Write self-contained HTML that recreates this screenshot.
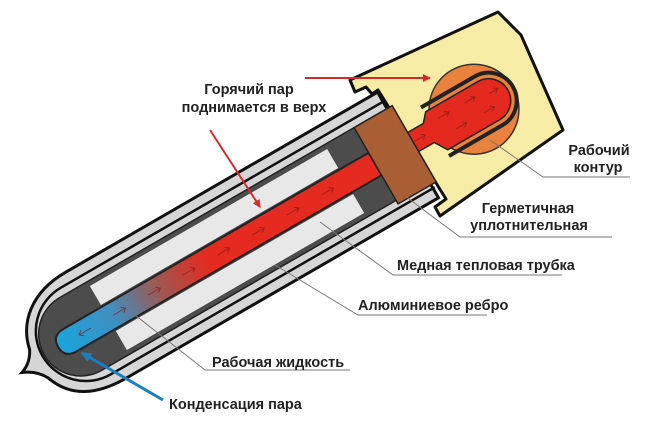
<!DOCTYPE html>
<html><head><meta charset="utf-8"><style>
html,body{margin:0;padding:0;background:#fff;}
svg{display:block}
text{font-family:"Liberation Sans","DejaVu Sans",sans-serif;font-weight:bold;font-size:14.5px;fill:#222}
</style></head><body>
<svg width="650" height="446" viewBox="0 0 650 446" xmlns="http://www.w3.org/2000/svg">
<defs>
<linearGradient id="pg" gradientUnits="userSpaceOnUse" x1="-400" y1="0" x2="-230" y2="0">
<stop offset="0" stop-color="#1ba3dc"/><stop offset="0.35" stop-color="#3f8fc0"/><stop offset="0.65" stop-color="#9a5a55"/><stop offset="1" stop-color="#e52a1f"/>
</linearGradient>
<marker id="ar" markerWidth="8" markerHeight="8" refX="7" refY="4" orient="auto" markerUnits="userSpaceOnUse"><path d="M0,0 L8,4 L0,8 z" fill="#d42a2a"/></marker>
<marker id="ab" markerWidth="10" markerHeight="10" refX="9" refY="5" orient="auto" markerUnits="userSpaceOnUse"><path d="M0,0 L10,5 L0,10 z" fill="#1a7fc0"/></marker>
</defs>
<polygon points="350,80 498,12 521,35 563,130 440,216 435,207 446,199 378,90 372,94 366,87 355,92" fill="#f6eca6" stroke="#111" stroke-width="3" stroke-linejoin="round"/>
<g transform="translate(408,145) rotate(-30)">
  <path d="M0,-61 L-360,-61 C-400,-61 -424,-40 -430,-12 Q-436,0 -448,4 Q-434,10 -428,22 C-418,50 -394,61 -360,61 L0,61 Z" fill="#d6d6d6" stroke="#111" stroke-width="3"/>
  <path d="M2,-50 L-372,-50 A50,50 0 0 0 -372,50 L2,50" fill="none" stroke="#111" stroke-width="2.5"/>
  <path d="M-2,-42 L-378,-42 A42,42 0 0 0 -378,42 L-2,42 Z" fill="#4c4c4c" stroke="#222" stroke-width="1.5"/>
  <rect x="-346" y="-37" width="274" height="22" fill="#e8e8e8"/>
  <rect x="-346" y="15" width="274" height="22" fill="#e8e8e8"/>
  <path d="M-38,-13 L-390,-13 Q-404,-13 -404,0 Q-404,13 -390,13 L-38,13 Z" fill="url(#pg)" stroke="#222" stroke-width="2"/>
  <g stroke="#8a1a14" stroke-width="1" fill="none" opacity="0.7">
    <path d="M-100,0 h14 m-4,-3 l4,3 l-4,3"/><path d="M-140,0 h14 m-4,-3 l4,3 l-4,3"/>
    <path d="M-180,0 h14 m-4,-3 l4,3 l-4,3"/><path d="M-220,0 h14 m-4,-3 l4,3 l-4,3"/>
    <path d="M-260,0 h14 m-4,-3 l4,3 l-4,3"/><path d="M-300,0 h14 m-4,-3 l4,3 l-4,3"/>
    <path d="M-340,0 h14 m-4,-3 l4,3 l-4,3"/><path d="M-380,0 h14 m-14,0 l4,-3 m-4,3 l4,3"/>
  </g>
  <circle cx="75" cy="2" r="45" fill="#e9823c" stroke="#333" stroke-width="1.5"/>
  <path d="M30,-26 L92,-26 A28,28 0 0 1 92,30 L30,30" fill="none" stroke="#222" stroke-width="4"/>
  <path d="M0,-11 L24,-11 L32,-20 L92,-20 A22,22 0 0 1 92,24 L32,24 L24,11 L0,11 Z" fill="#e42a1e" stroke="#222" stroke-width="1.5"/>
  <g stroke="#8a1a14" stroke-width="1" fill="none" opacity="0.7">
    <path d="M40,-8 h12 m-4,-3 l4,3 l-4,3"/><path d="M70,-8 h12 m-4,-3 l4,3 l-4,3"/><path d="M96,-4 h10 m-4,-3 l4,3 l-4,3"/>
    <path d="M50,10 h12 m-4,-3 l4,3 l-4,3"/><path d="M82,10 h12 m-4,-3 l4,3 l-4,3"/><path d="M8,0 h12 m-4,-3 l4,3 l-4,3"/>
  </g>
  <rect x="-38" y="-42" width="44" height="88" fill="#a95e34" stroke="#222" stroke-width="1.5"/>
</g>
<line x1="305" y1="78" x2="430" y2="78" stroke="#d42a2a" stroke-width="2" marker-end="url(#ar)"/>
<line x1="210" y1="130" x2="260" y2="207" stroke="#d42a2a" stroke-width="2" marker-end="url(#ar)"/>
<line x1="163" y1="400" x2="82" y2="353" stroke="#1a7fc0" stroke-width="3" marker-end="url(#ab)"/>
<g stroke="#777" stroke-width="1" fill="none">
<polyline points="490,140 543,177 630,177"/>
<polyline points="405,196 460,237 612,237"/>
<polyline points="320,222 393,275 562,275"/>
<polyline points="275,265 358,315 487,315"/>
<polyline points="135,315 205,370 350,370"/>
</g>
<text x="249" y="94" text-anchor="middle">Горячий пар</text>
<text x="254" y="112" text-anchor="middle">поднимается в верх</text>
<text x="599" y="155" text-anchor="middle">Рабочий</text>
<text x="598" y="172" text-anchor="middle">контур</text>
<text x="528" y="213" text-anchor="middle">Герметичная</text>
<text x="529" y="230" text-anchor="middle">уплотнительная</text>
<text x="397" y="270">Медная тепловая трубка</text>
<text x="358" y="310">Алюминиевое ребро</text>
<text x="212" y="367">Рабочая жидкость</text>
<text x="169" y="409">Конденсация пара</text>
</svg>
</body></html>
